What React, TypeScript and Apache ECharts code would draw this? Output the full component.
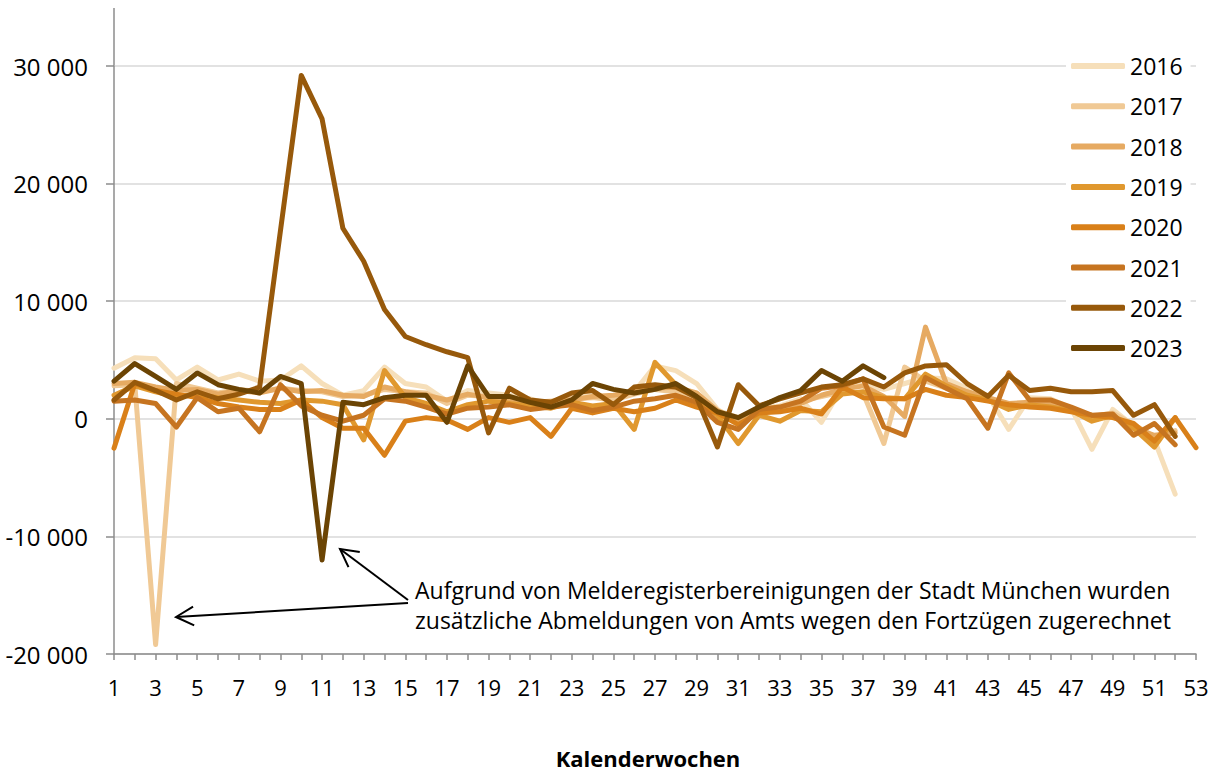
import React, { useEffect, useRef } from "react";
import * as echarts from "echarts";

const weeks: string[] = Array.from({ length: 53 }, (_, i) => String(i + 1));

const years = ["2016", "2017", "2018", "2019", "2020", "2021", "2022", "2023"];
const colors = ["#F6DFBA", "#F0C995", "#E6AA62", "#E0982E", "#D98019", "#C67420", "#97590B", "#6B4404"];

const y2016 = [4300,5200,5100,3300,4400,3300,3800,3200,3300,4500,3000,2000,2400,4400,3000,2700,1500,2400,2200,2000,1700,1200,1900,2000,1800,2300,4500,4100,3000,800,-400,900,1100,1700,-300,2700,2900,2500,3000,3500,3400,2600,2000,-900,1800,1700,900,-2600,800,-600,-1800,-6400];
const y2017 = [2800,2900,-19200,3000,2600,2200,2500,2300,2600,2400,2300,1900,2000,2500,2300,2200,1300,2000,1900,1800,1500,1300,1700,1800,1600,2100,2500,2300,1900,700,100,800,1000,1500,1900,2300,2200,-2100,4400,3200,2600,2300,1600,1000,1300,1200,800,200,500,-500,-1500,-1000];
const y2018 = [3000,3100,2700,2400,2500,2100,2400,2200,2600,2300,2400,2000,1900,2700,2300,2000,1600,2100,1800,1700,1400,1500,1600,1900,2000,2300,2600,2700,2200,700,-300,900,700,1300,2000,2500,2800,1900,200,7800,3000,2300,1800,1300,1400,1300,900,0,200,-800,-1400,-1200];
const y2019 = [2000,2800,2300,1900,2100,1800,1600,1400,1300,1600,1500,1200,-1800,4100,1800,1300,600,1200,1500,1300,1100,900,1400,1100,1300,-900,4800,2900,1800,300,-2100,300,-200,700,600,2100,2300,1800,1700,3800,2800,2000,1600,800,1200,1000,700,-200,300,-800,-2400,100];
const y2020 = [-2500,3000,2400,2100,1800,1300,1000,800,800,1600,100,-800,-800,-3100,-200,100,-100,-900,100,-300,100,-1500,900,500,900,600,900,1600,1000,500,-500,500,600,900,400,2700,1800,1700,1700,2500,2000,1800,1500,1200,1000,900,600,300,100,-400,-1900,100,-2450];
const y2021 = [1500,1600,1300,-700,1800,600,900,-1100,2900,1100,300,-200,300,1700,1500,1000,400,900,1000,1200,800,1000,1200,700,1000,1500,1700,2000,1400,-300,-900,800,1000,1500,2600,2800,3400,-700,-1400,3500,2600,1700,-800,3900,1600,1600,1000,300,400,-1400,-400,-2200];
const y2022 = [1600,3100,2400,1600,2300,1700,2100,2700,16000,29200,25500,16200,13400,9300,7000,6300,5700,5200,-1200,2600,1600,1400,2200,2400,1200,2700,2900,2700,1800,-2400,2900,1100,1700,2200,2700,2900,3400,2700,3900,4500,4600,3000,1900,3700,2400,2600,2300,2300,2400,300,1200,-1500];
const y2023 = [3200,4700,3600,2500,3900,2900,2500,2200,3600,3000,-12000,1400,1200,1800,2000,2000,-300,4500,1900,1900,1400,1000,1600,3000,2500,2200,2500,3000,1900,600,100,1000,1800,2400,4100,3200,4500,3500];

const seriesValues = [y2016, y2017, y2018, y2019, y2020, y2021, y2022, y2023];

const noteLines = [
  "Aufgrund von Melderegisterbereinigungen der Stadt München wurden",
  "zusätzliche Abmeldungen von Amts wegen den Fortzügen zugerechnet",
];

const FONT = "'Open Sans', sans-serif";

function fmt(v: number): string {
  const s = String(Math.abs(v)).replace(/\B(?=(\d{3})+(?!\d))/g, " ");
  return (v < 0 ? "-" : "") + s;
}

function arrow(x1: number, y1: number, x2: number, y2: number) {
  const dx = x1 - x2, dy = y1 - y2;
  const len = Math.hypot(dx, dy);
  const ux = dx / len, uy = dy / len;
  const a = (28 * Math.PI) / 180, L = 20;
  const r = (s: number) => [
    x2 + L * (ux * Math.cos(a) - s * uy * Math.sin(a)),
    y2 + L * (s * ux * Math.sin(a) + uy * Math.cos(a)),
  ];
  const style = { stroke: "#000", lineWidth: 2, fill: null as any };
  return [
    { type: "line", shape: { x1, y1, x2, y2 }, style, z: 100 },
    { type: "polyline", shape: { points: [r(1), [x2, y2], r(-1)] }, style, z: 100 },
  ];
}

export default function App() {
  const ref = useRef<HTMLDivElement>(null);
  useEffect(() => {
    const chart = echarts.init(ref.current!, null, { renderer: "svg" });
    chart.setOption({
      animation: false,
      backgroundColor: "#fff",
      textStyle: { fontFamily: FONT },
      grid: { left: 114, right: 20, top: 66, bottom: 119, containLabel: false },
      legend: {
        orient: "vertical",
        left: 1066,
        top: 48,
        padding: [5, 8, 5, 5],
        backgroundColor: "#fff",
        itemWidth: 54,
        itemHeight: 6,
        itemGap: 14.3,
        icon: "roundRect",
        data: years,
        textStyle: { fontFamily: FONT, fontSize: 23, color: "#000", lineHeight: 26 },
      },
      xAxis: {
        type: "category",
        data: weeks,
        boundaryGap: false,
        axisLine: { onZero: false, lineStyle: { color: "#8C8C8C", width: 1.5 } },
        axisTick: { show: true, interval: 0, length: 6, lineStyle: { color: "#8C8C8C", width: 1.5 } },
        axisLabel: { interval: 1, margin: 22, fontSize: 22, color: "#000", fontFamily: FONT },
        splitLine: { show: false },
      },
      yAxis: {
        type: "value",
        min: -20000,
        max: 30000,
        interval: 10000,
        axisLine: { show: true, lineStyle: { color: "#8C8C8C", width: 1.5 } },
        axisTick: { show: true, length: 8, lineStyle: { color: "#8C8C8C", width: 1.5 } },
        axisLabel: { margin: 26, fontSize: 24, color: "#000", fontFamily: FONT, formatter: (v: number) => fmt(v) },
        splitLine: { show: true, lineStyle: { color: "#D9D9D9", width: 1.5 } },
      },
      series: years.map((y, i) => ({
        name: y,
        type: "line",
        data: seriesValues[i],
        showSymbol: false,
        symbol: "none",
        color: colors[i],
        lineStyle: { width: 5, color: colors[i], cap: "round", join: "round" },
        z: 2 + i,
      })),
      graphic: [
        { type: "line", shape: { x1: 114, y1: 8, x2: 114, y2: 66 }, style: { stroke: "#8C8C8C", lineWidth: 1.5 } },
        {
          type: "text",
          left: 415,
          top: 575,
          style: { text: noteLines.join("\n"), fontFamily: FONT, fontSize: 23, lineHeight: 30, fill: "#000" },
          z: 100,
        },
        ...arrow(408, 603, 176, 617),
        ...arrow(408, 600, 340, 549),
        {
          type: "text",
          x: 648,
          y: 758,
          style: { text: "Kalenderwochen", fontFamily: FONT, fontSize: 22, fontWeight: "bold", fill: "#000", align: "center", verticalAlign: "middle" },
        },
      ],
    });
    return () => chart.dispose();
  }, []);
  return <div ref={ref} style={{ position: "fixed", left: 0, top: 0, width: 1216, height: 773 }} />;
}
